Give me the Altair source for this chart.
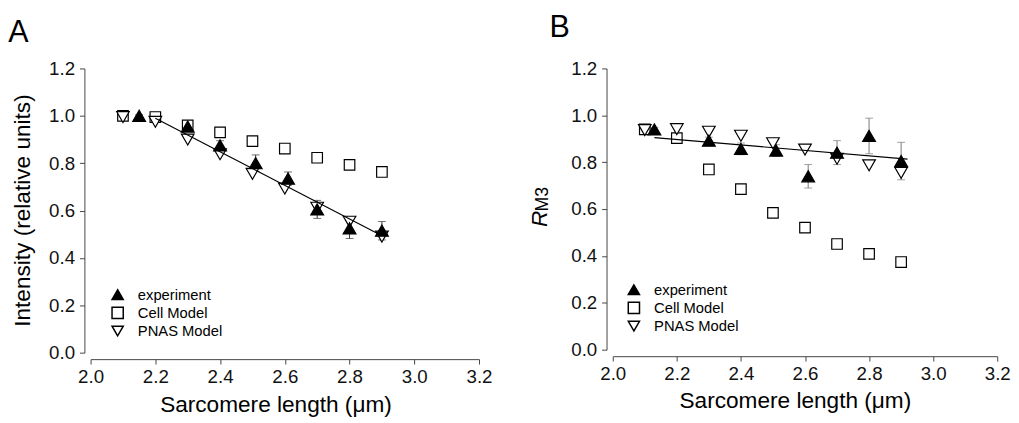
import altair as alt
import pandas as pd

FONT = "Liberation Sans, Arial, Helvetica, sans-serif"
SERIES = ["experiment", "Cell Model", "PNAS Model"]
X_TICKS = [2.0, 2.2, 2.4, 2.6, 2.8, 3.0, 3.2]
Y_TICKS = [0.0, 0.2, 0.4, 0.6, 0.8, 1.0, 1.2]
MARKER_AREA = {"experiment": 170, "Cell Model": 115, "PNAS Model": 165}

# ---------------- Panel A : Intensity ----------------
a_exp_x = [2.15, 2.30, 2.40, 2.51, 2.61, 2.70, 2.80, 2.90]
a_exp_y = [1.00, 0.955, 0.875, 0.80, 0.735, 0.605, 0.525, 0.515]
a_exp_err = [0.005, 0.015, 0.02, 0.035, 0.028, 0.038, 0.043, 0.039]
a_model_x = [2.1, 2.2, 2.3, 2.4, 2.5, 2.6, 2.7, 2.8, 2.9]
a_cell_y = [1.0, 0.995, 0.96, 0.93, 0.893, 0.862, 0.823, 0.793, 0.763]
a_pnas_y = [0.995, 0.975, 0.90, 0.838, 0.755, 0.693, 0.612, 0.553, 0.49]
a_fit_x = [2.2, 2.9]
a_fit_y = [0.99, 0.494]

# ---------------- Panel B : R_M3 ----------------
b_exp_x = [2.13, 2.30, 2.40, 2.51, 2.61, 2.70, 2.80, 2.90]
b_exp_y = [0.94, 0.892, 0.857, 0.85, 0.74, 0.841, 0.912, 0.805]
b_exp_err = [0.008, 0.015, 0.025, 0.025, 0.05, 0.051, 0.076, 0.08]
b_model_x = [2.1, 2.2, 2.3, 2.4, 2.5, 2.6, 2.7, 2.8, 2.9]
b_cell_y = [0.94, 0.903, 0.769, 0.685, 0.584, 0.521, 0.451, 0.409, 0.374]
b_pnas_y = [0.937, 0.941, 0.93, 0.913, 0.881, 0.854, 0.815, 0.787, 0.755]
b_fit_x = [2.13, 2.92]
b_fit_y = [0.905, 0.813]


def text_mark(text, x, y, size, angle=0, align="left", baseline="alphabetic", style="normal"):
    return alt.Chart(pd.DataFrame({"t": [text]})).mark_text(
        text=text, font=FONT, fontSize=size, angle=angle, align=align,
        baseline=baseline, fontStyle=style, color="black"
    ).encode(x=alt.value(x), y=alt.value(y))


def panel(letter, exp_x, exp_y, exp_err, model_x, cell_y, pnas_y, fit_x, fit_y,
          width, height, bar_color, legend_x, legend_y, letter_xy, ytitle_layers,
          xtitle_x, xtitle_y):
    series = (["Cell Model"] * len(model_x) + ["PNAS Model"] * len(model_x)
              + ["experiment"] * len(exp_x))
    pts = pd.DataFrame({
        "x": list(model_x) + list(model_x) + list(exp_x),
        "y": list(cell_y) + list(pnas_y) + list(exp_y),
        "series": series,
        "area": [MARKER_AREA[s] for s in series],
    })
    err = pd.DataFrame({
        "x": exp_x,
        "lo": [v - e for v, e in zip(exp_y, exp_err)],
        "hi": [v + e for v, e in zip(exp_y, exp_err)],
    })
    fit = pd.DataFrame({"x": fit_x, "y": fit_y})

    xscale = alt.Scale(domain=[2.0, 3.2], nice=False, zero=False)
    yscale = alt.Scale(domain=[0.0, 1.2], nice=False, zero=False)
    common = dict(labelFontSize=19, labelFont=FONT, labelColor="#111", tickSize=5, tickWidth=1,
                  tickColor="#444", domainColor="#444", domainWidth=1, grid=False,
                  format=".1f", title=None, labelFlush=False, labelOverlap=False)
    xaxis = alt.Axis(values=X_TICKS, offset=6.6, labelPadding=4, **common)
    yaxis = alt.Axis(values=Y_TICKS, offset=6.3, labelPadding=5, **common)

    def X(f):
        return alt.X(f, type="quantitative", scale=xscale, axis=xaxis)

    def Y(f):
        return alt.Y(f, type="quantitative", scale=yscale, axis=yaxis)

    bars = alt.Chart(err).mark_rule(color=bar_color, strokeWidth=1).encode(
        x=X("x"), y=Y("lo"), y2="hi:Q")
    caps_lo = alt.Chart(err).mark_tick(color=bar_color, orient="horizontal", size=8, thickness=1).encode(
        x=X("x"), y=Y("lo"))
    caps_hi = alt.Chart(err).mark_tick(color=bar_color, orient="horizontal", size=8, thickness=1).encode(
        x=X("x"), y=Y("hi"))

    legend = alt.Legend(orient="none", legendX=legend_x, legendY=legend_y, title=None,
                        labelFontSize=15, labelFont=FONT, labelColor="black",
                        symbolSize=130, labelOffset=13, rowPadding=0.5)
    points = alt.Chart(pts).mark_point(filled=True, stroke="black", strokeWidth=1.2, opacity=1).encode(
        x=X("x"), y=Y("y"),
        shape=alt.Shape("series:N", scale=alt.Scale(
            domain=SERIES, range=["triangle-up", "square", "triangle-down"]), legend=legend),
        fill=alt.Fill("series:N", scale=alt.Scale(
            domain=SERIES, range=["black", "white", "white"]), legend=legend),
        size=alt.Size("area:Q", scale=None),
    )

    line = alt.Chart(fit).mark_line(color="black", strokeWidth=1.2).encode(
        x=X("x"), y=Y("y"))

    layers = [bars, caps_lo, caps_hi, points, line,
              text_mark(letter, letter_xy[0], letter_xy[1], 31),
              text_mark("Sarcomere length (μm)", xtitle_x, xtitle_y, 23, align="center")]
    layers += ytitle_layers
    return alt.layer(*layers).properties(width=width, height=height)


chart_a = panel(
    "A", a_exp_x, a_exp_y, a_exp_err, a_model_x, a_cell_y, a_pnas_y, a_fit_x, a_fit_y,
    width=395, height=289, bar_color="#333", legend_x=20, legend_y=222.5,
    letter_xy=(-83.7, -27.3),
    ytitle_layers=[text_mark("Intensity (relative units)", -68.7, 144.5, 23, angle=270,
                             align="center", baseline="middle")],
    xtitle_x=188.5, xtitle_y=349.5,
)

chart_b = panel(
    "B", b_exp_x, b_exp_y, b_exp_err, b_model_x, b_cell_y, b_pnas_y, b_fit_x, b_fit_y,
    width=391, height=286, bar_color="#777", legend_x=14, legend_y=217.5,
    letter_xy=(-64.3, -31.7),
    ytitle_layers=[
        text_mark("R", -67.3, 161.3, 23, angle=270, style="italic"),
        text_mark("M3", -66.3, 145.5, 18, angle=270),
    ],
    xtitle_x=185.7, xtitle_y=344.8,
)

chart = alt.hconcat(chart_a, chart_b, spacing=36, bounds="full").resolve_scale(
    shape="independent", fill="independent"
).resolve_legend(
    shape="independent", fill="independent"
).properties(
    padding={"left": 0, "top": 1, "right": 0, "bottom": 0}
).configure_view(stroke=None)

chart.save("out.html", embed_options={"renderer": "svg", "actions": False})
